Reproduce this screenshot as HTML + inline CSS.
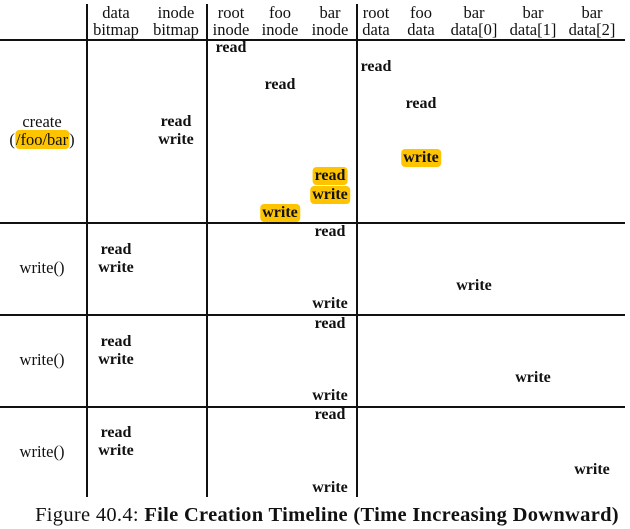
<!DOCTYPE html>
<html><head><meta charset="utf-8"><style>
body{margin:0;width:630px;height:529px;background:#fff;position:relative;overflow:hidden;font-family:"Liberation Serif",serif;color:#111}
.t{position:absolute;transform:translate(-50%,-50%);font-size:16.5px;white-space:nowrap;line-height:18px}
.b{font-weight:bold;font-size:16px}
.h{background:#ffc400;border-radius:4px;padding:0 2px}
.l{position:absolute;background:#111}
</style></head><body>
<div class="l" style="left:86px;top:4px;width:1.5px;height:493px"></div>
<div class="l" style="left:206px;top:4px;width:1.5px;height:493px"></div>
<div class="l" style="left:356px;top:4px;width:1.5px;height:493px"></div>
<div class="l" style="left:0;top:39px;width:625px;height:1.5px"></div>
<div class="l" style="left:0;top:222px;width:625px;height:1.5px"></div>
<div class="l" style="left:0;top:314px;width:625px;height:1.5px"></div>
<div class="l" style="left:0;top:406px;width:625px;height:1.5px"></div>

<div class="t" style="left:116px;top:13px">data</div><div class="t" style="left:116px;top:30px">bitmap</div>
<div class="t" style="left:176px;top:13px">inode</div><div class="t" style="left:176px;top:30px">bitmap</div>
<div class="t" style="left:231px;top:13px">root</div><div class="t" style="left:231px;top:30px">inode</div>
<div class="t" style="left:280px;top:13px">foo</div><div class="t" style="left:280px;top:30px">inode</div>
<div class="t" style="left:330px;top:13px">bar</div><div class="t" style="left:330px;top:30px">inode</div>
<div class="t" style="left:376px;top:13px">root</div><div class="t" style="left:376px;top:30px">data</div>
<div class="t" style="left:421px;top:13px">foo</div><div class="t" style="left:421px;top:30px">data</div>
<div class="t" style="left:474px;top:13px">bar</div><div class="t" style="left:474px;top:30px">data[0]</div>
<div class="t" style="left:533px;top:13px">bar</div><div class="t" style="left:533px;top:30px">data[1]</div>
<div class="t" style="left:592px;top:13px">bar</div><div class="t" style="left:592px;top:30px">data[2]</div>

<div class="t" style="left:42px;top:122px">create</div>
<div class="t" style="left:42px;top:140px">(<span class="h" style="padding:0 1px">/foo/bar</span>)</div>
<div class="t b" style="left:231px;top:48px">read</div>
<div class="t b" style="left:280px;top:85px">read</div>
<div class="t b" style="left:376px;top:67px">read</div>
<div class="t b" style="left:421px;top:104px">read</div>
<div class="t b" style="left:176px;top:122px">read</div>
<div class="t b" style="left:176px;top:140px">write</div>
<div class="t b h" style="left:421px;top:158px">write</div>
<div class="t b h" style="left:330px;top:176px">read</div>
<div class="t b h" style="left:330px;top:195px">write</div>
<div class="t b h" style="left:280px;top:213px">write</div>

<div class="t b" style="left:330px;top:232px">read</div>
<div class="t b" style="left:116px;top:250px">read</div>
<div class="t b" style="left:116px;top:268px">write</div>
<div class="t" style="left:42px;top:268px">write()</div>
<div class="t b" style="left:330px;top:304px">write</div>
<div class="t b" style="left:474px;top:286px">write</div>

<div class="t b" style="left:330px;top:324px">read</div>
<div class="t b" style="left:116px;top:342px">read</div>
<div class="t b" style="left:116px;top:360px">write</div>
<div class="t" style="left:42px;top:360px">write()</div>
<div class="t b" style="left:330px;top:396px">write</div>
<div class="t b" style="left:533px;top:378px">write</div>

<div class="t b" style="left:330px;top:415px">read</div>
<div class="t b" style="left:116px;top:433px">read</div>
<div class="t b" style="left:116px;top:451px">write</div>
<div class="t" style="left:42px;top:452px">write()</div>
<div class="t b" style="left:330px;top:488px">write</div>
<div class="t b" style="left:592px;top:470px">write</div>

<div class="t" style="left:327px;top:515px;font-size:20.5px;line-height:22px;letter-spacing:0.3px">Figure 40.4: <b>File Creation Timeline (Time Increasing Downward)</b></div>
</body></html>
